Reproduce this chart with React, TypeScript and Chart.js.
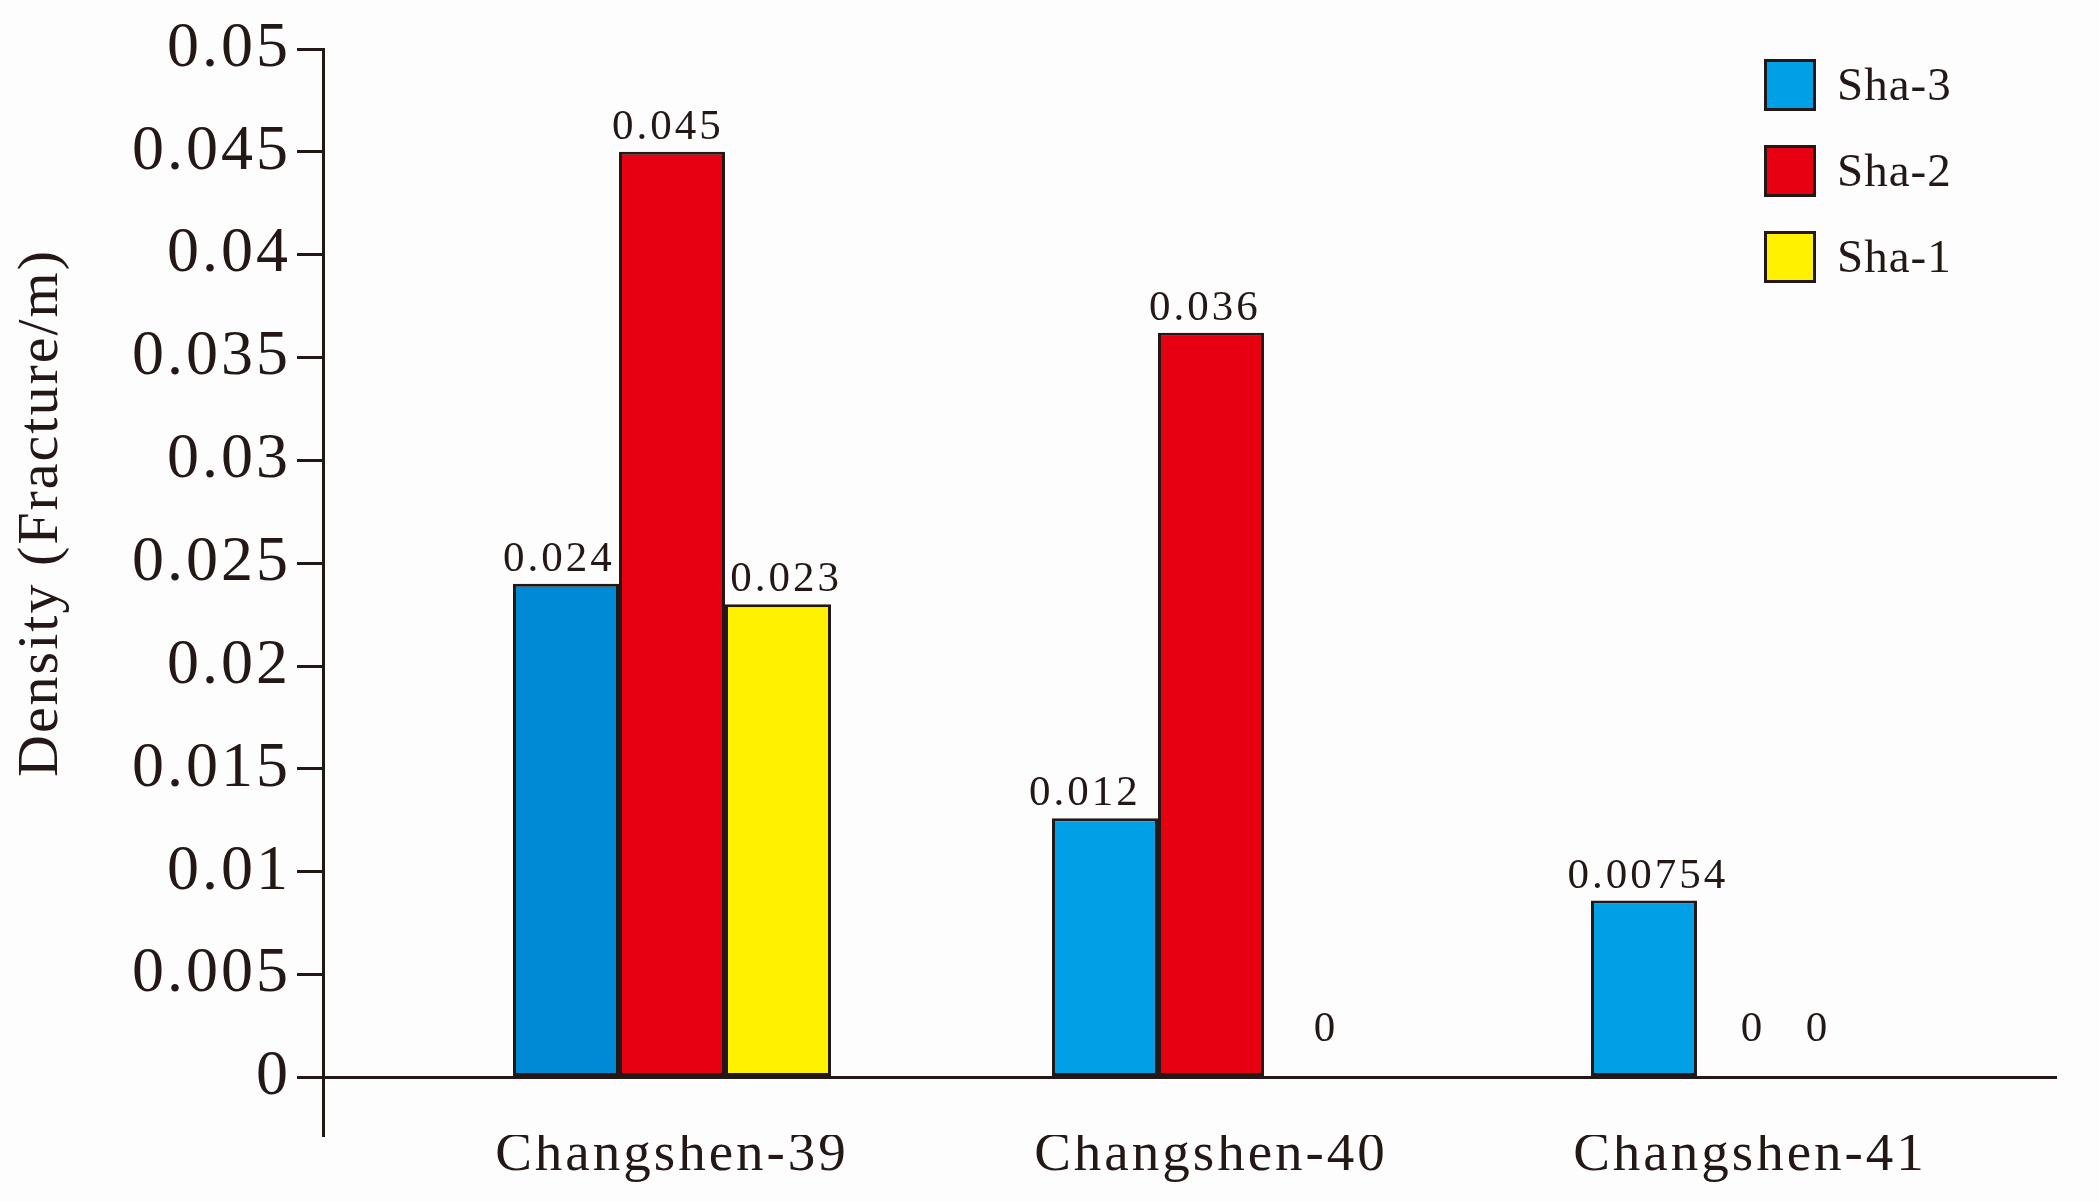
import React, { useEffect, useRef } from 'react';
import { Chart, registerables } from 'chart.js';

Chart.register(...registerables);

// ---------------- data ----------------
const categories = ['Changshen-39', 'Changshen-40', 'Changshen-41'];
const seriesNames = ['Sha-3', 'Sha-2', 'Sha-1'];
const sha3Values = [0.024, 0.0126, 0.0086];
const sha2Values = [0.045, 0.0362, 0];
const sha1Values = [0.023, 0, 0];
const sha3Labels = ['0.024', '0.012', '0.00754'];
const sha2Labels = ['0.045', '0.036', '0'];
const sha1Labels = ['0.023', '0', '0'];
const yTickValues = [0, 0.005, 0.01, 0.015, 0.02, 0.025, 0.03, 0.035, 0.04, 0.045, 0.05];
const yTickLabels = ['0', '0.005', '0.01', '0.015', '0.02', '0.025', '0.03', '0.035', '0.04', '0.045', '0.05'];
const yTitle = 'Density (Fracture/m)';

// ---------------- styles ----------------
const FONT = '"Liberation Serif", "Times New Roman", Times, serif';
const INK = '#231815';
const BLUE = '#00A0E6';
const BLUE_DARK = '#0089D4';
const RED = '#E60012';
const YELLOW = '#FFF100';
const seriesColors = [BLUE, RED, YELLOW];
// small horizontal nudges of the value labels (px), as in the original drawing
const LABEL_NUDGE = [
  [-7, -20, 4],
  [-4, -6, 3],
  [8, 9, -38],
];

const seriesValues = [sha3Values, sha2Values, sha1Values];
const seriesLabels = [sha3Labels, sha2Labels, sha1Labels];

const backgroundPlugin = {
  id: 'bgAndSpacing',
  beforeDraw(chart: any) {
    const ctx = chart.ctx;
    ctx.save();
    ctx.fillStyle = '#fdfdfd';
    ctx.fillRect(0, 0, chart.width, chart.height);
    ctx.restore();
    (ctx as any).letterSpacing = '3px';
  },
};

const yTitlePlugin = {
  id: 'yTitle',
  afterDraw(chart: any) {
    const ctx = chart.ctx;
    ctx.save();
    (ctx as any).letterSpacing = '2px';
    ctx.translate(42, 513);
    ctx.rotate(-Math.PI / 2);
    ctx.font = `58px ${FONT}`;
    ctx.fillStyle = INK;
    ctx.textAlign = 'center';
    ctx.textBaseline = 'middle';
    ctx.fillText(yTitle, 0, 0);
    ctx.restore();
  },
};

const valueLabelPlugin = {
  id: 'valueLabels',
  afterDatasetsDraw(chart: any) {
    const ctx = chart.ctx;
    const yZero = chart.scales.y.getPixelForValue(0);
    ctx.save();
    (ctx as any).letterSpacing = '3px';
    ctx.font = `43px ${FONT}`;
    ctx.fillStyle = INK;
    ctx.textAlign = 'center';
    ctx.textBaseline = 'alphabetic';
    chart.data.datasets.forEach((ds: any, di: number) => {
      const meta = chart.getDatasetMeta(di);
      meta.data.forEach((bar: any, j: number) => {
        const v = ds.data[j].y;
        const text = seriesLabels[di][j];
        const y = v === 0 ? yZero - 36 : bar.y - 13;
        ctx.fillText(text, bar.x + LABEL_NUDGE[di][j], y);
      });
    });
    ctx.restore();
  },
};

const legendPlugin = {
  id: 'customLegend',
  afterDraw(chart: any) {
    const ctx = chart.ctx;
    const x0 = chart.chartArea.right - 293;
    const y0 = chart.chartArea.top + 10;
    const box = 52;
    ctx.save();
    chart.data.datasets.forEach((ds: any, i: number) => {
      const y = y0 + i * 86;
      ctx.fillStyle = seriesColors[i];
      ctx.fillRect(x0, y, box, box);
      ctx.lineWidth = 3;
      ctx.strokeStyle = INK;
      ctx.strokeRect(x0 + 1.5, y + 1.5, box - 3, box - 3);
      (ctx as any).letterSpacing = '1px';
      ctx.font = `47px ${FONT}`;
      ctx.fillStyle = INK;
      ctx.textAlign = 'left';
      ctx.textBaseline = 'alphabetic';
      ctx.fillText(ds.label, x0 + 73, y + box / 2 + 15);
    });
    ctx.restore();
  },
};

export default function App() {
  const canvasRef = useRef<HTMLCanvasElement | null>(null);

  useEffect(() => {
    const canvas = canvasRef.current;
    if (!canvas) return;
    const datasets = seriesNames.map((name, si) => ({
      label: name,
      data: seriesValues[si].map((v, i) => ({ x: i, y: v })),
      backgroundColor: si === 0 ? categories.map((_, i) => (i === 0 ? BLUE_DARK : BLUE)) : seriesColors[si],
      borderColor: INK,
      borderWidth: 3,
      borderSkipped: false,
    }));

    const chart = new Chart(canvas, {
      type: 'bar',
      data: { datasets } as any,
      options: {
        responsive: false,
        animation: false,
        devicePixelRatio: 1,
        layout: { padding: { top: 49, left: 0, right: 42, bottom: 0 } },
        datasets: { bar: { categoryPercentage: 0.59, barPercentage: 1 } } as any,
        plugins: {
          legend: { display: false },
          tooltip: { enabled: false },
        },
        scales: {
          x: {
            type: 'linear',
            offset: false,
            min: -0.6475,
            max: 2.5696,
            afterBuildTicks: (s: any) => {
              s.ticks = categories.map((_, i) => ({ value: i }));
            },
            afterFit: (s: any) => {
              s.height = 67;
            },
            grid: { display: false, drawTicks: false, offset: false },
            border: { display: false },
            ticks: {
              autoSkip: false,
              maxRotation: 0,
              minRotation: 0,
              padding: -7,
              color: INK,
              font: { family: FONT, size: 55, lineHeight: 1 },
              callback: (v: any) => categories[v as number] ?? '',
            },
          },
          y: {
            min: -0.0028,
            max: 0.05,
            afterBuildTicks: (s: any) => {
              s.ticks = yTickValues.map((v) => ({ value: v }));
            },
            afterFit: (s: any) => {
              s.width = 323;
            },
            grid: {
              color: (c: any) => (c.tick && c.tick.value === 0 ? INK : 'rgba(0,0,0,0)'),
              tickColor: INK,
              lineWidth: 3,
              tickWidth: 3,
              tickLength: 26,
              drawTicks: true,
            },
            border: { display: true, color: INK, width: 3 },
            ticks: {
              padding: 6,
              color: INK,
              font: { family: FONT, size: 64, lineHeight: 1 },
              callback: (_v: any, i: number) => yTickLabels[i],
            },
          },
        },
      } as any,
      plugins: [backgroundPlugin, yTitlePlugin, valueLabelPlugin, legendPlugin],
    });
    return () => chart.destroy();
  }, []);

  return (
    <div style={{ position: 'fixed', left: 0, top: 0, width: 2099, height: 1202 }}>
      <canvas ref={canvasRef} width={2099} height={1202} style={{ display: 'block', width: 2099, height: 1202 }} />
    </div>
  );
}
